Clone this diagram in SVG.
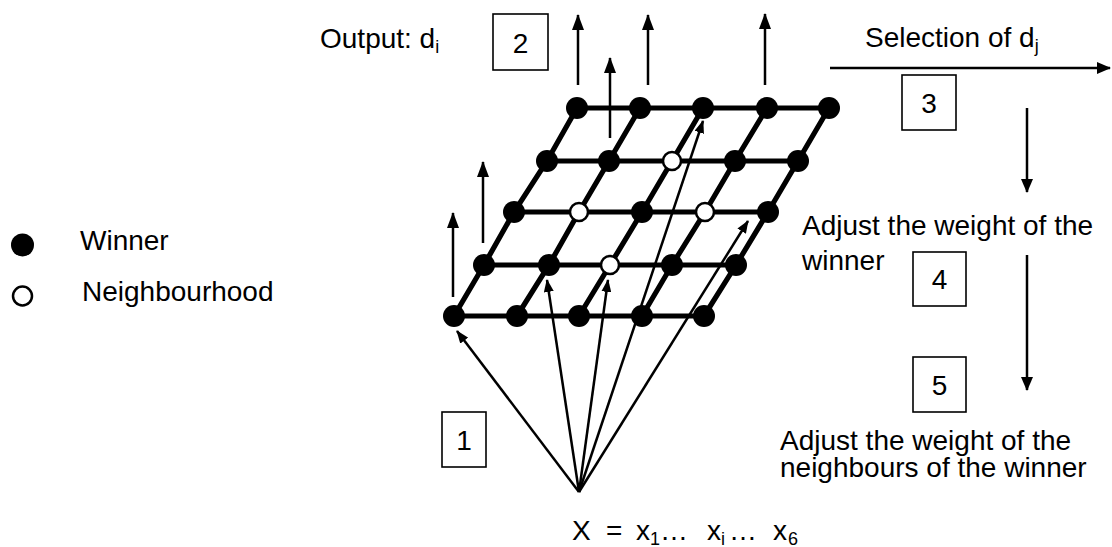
<svg xmlns="http://www.w3.org/2000/svg" width="1112" height="547" viewBox="0 0 1112 547">
<defs>
<style>
.t{font-family:"Liberation Sans",Arial,sans-serif;font-size:28px;fill:#000}
.s{font-size:18px}
.g{stroke:#000;stroke-width:5.2;fill:none;stroke-linecap:round}
.a{stroke:#000;stroke-width:2.5;fill:none}
.b{fill:#fff;stroke:#000;stroke-width:1.6}
.n{fill:#000}
.o{fill:#fff;stroke:#000;stroke-width:2.5}
</style>
<marker id="hOut" markerUnits="userSpaceOnUse" markerWidth="16" markerHeight="12" refX="15" refY="6" orient="auto"><path d="M0,0 L16,6 L0,12 z" fill="#000"/></marker>
<marker id="hIn" markerUnits="userSpaceOnUse" markerWidth="13" markerHeight="10" refX="12" refY="5" orient="auto"><path d="M0,0 L13,5 L0,10 z" fill="#000"/></marker>
<marker id="hR" markerUnits="userSpaceOnUse" markerWidth="14" markerHeight="12" refX="13" refY="6" orient="auto"><path d="M0,0 L14,6 L0,12 z" fill="#000"/></marker>
</defs>
<rect width="1112" height="547" fill="#fff"/>

<g id="connectors">
  <!-- grid rows -->
  <path class="g" d="M577,108 L829,108 M547,161 L798,161 M514,212 L768,212 M484,265 L736,265 M454,316 L704,316"/>
  <!-- grid columns -->
  <path class="g" d="M577,108 L547,161 L514,212 L484,265 L454,316 M640,108 L609,161 L579,212 L549,265 L517,316 M703,108 L672,161 L642,212 L610,265 L579,316 M767,108 L735,161 L705,212 L672,265 L642,316 M829,108 L798,161 L768,212 L736,265 L704,316"/>
  <!-- outputs -->
  <line class="a" x1="578" y1="85" x2="578" y2="15" marker-end="url(#hOut)"/>
  <line class="a" x1="648" y1="85" x2="648" y2="15" marker-end="url(#hOut)"/>
  <line class="a" x1="765" y1="85" x2="765" y2="14" marker-end="url(#hOut)"/>
  <line class="a" x1="610" y1="138" x2="610" y2="58" marker-end="url(#hOut)"/>
  <line class="a" x1="483" y1="243" x2="483" y2="162" marker-end="url(#hOut)"/>
  <line class="a" x1="453" y1="297" x2="453" y2="213" marker-end="url(#hOut)"/>
  <!-- inputs -->
  <line class="a" x1="579" y1="492" x2="457" y2="331" marker-end="url(#hIn)"/>
  <line class="a" x1="579" y1="492" x2="547" y2="280" marker-end="url(#hIn)"/>
  <line class="a" x1="579" y1="492" x2="608" y2="280" marker-end="url(#hIn)"/>
  <line class="a" x1="579" y1="492" x2="703" y2="121" marker-end="url(#hIn)"/>
  <line class="a" x1="579" y1="492" x2="748" y2="221" marker-end="url(#hIn)"/>
  <!-- process flow -->
  <line class="a" x1="830" y1="68" x2="1110" y2="68" stroke-width="2" marker-end="url(#hR)"/>
  <line class="a" x1="1027" y1="108" x2="1027" y2="192" stroke-width="2" marker-end="url(#hR)"/>
  <line class="a" x1="1027" y1="255" x2="1027" y2="390" stroke-width="2" marker-end="url(#hR)"/>
</g>

<g id="nodes">
  <g id="row0"><circle class="n" cx="577" cy="108" r="11"/><circle class="n" cx="640" cy="108" r="11"/><circle class="n" cx="703" cy="108" r="11"/><circle class="n" cx="767" cy="108" r="11"/><circle class="n" cx="829" cy="108" r="11"/></g>
  <g id="row1"><circle class="n" cx="547" cy="161" r="11"/><circle class="n" cx="609" cy="161" r="11"/><circle class="o" cx="672" cy="161" r="9"/><circle class="n" cx="735" cy="161" r="11"/><circle class="n" cx="798" cy="161" r="11"/></g>
  <g id="row2"><circle class="n" cx="514" cy="212" r="11"/><circle class="o" cx="579" cy="212" r="9"/><circle class="n" cx="642" cy="212" r="11"/><circle class="o" cx="705" cy="212" r="9"/><circle class="n" cx="768" cy="212" r="11"/></g>
  <g id="row3"><circle class="n" cx="484" cy="265" r="11"/><circle class="n" cx="549" cy="265" r="11"/><circle class="o" cx="610" cy="265" r="9"/><circle class="n" cx="672" cy="265" r="11"/><circle class="n" cx="736" cy="265" r="11"/></g>
  <g id="row4"><circle class="n" cx="454" cy="316" r="11"/><circle class="n" cx="517" cy="316" r="11"/><circle class="n" cx="579" cy="316" r="11"/><circle class="n" cx="642" cy="316" r="11"/><circle class="n" cx="704" cy="316" r="11"/></g>
</g>

<g id="box1"><rect class="b" x="442" y="412" width="44" height="55"/><text class="t" x="464" y="449.5" text-anchor="middle">1</text></g>
<g id="box2"><rect class="b" x="493" y="14" width="55" height="56"/><text class="t" x="520.5" y="52.5" text-anchor="middle">2</text></g>
<g id="box3"><rect class="b" x="902" y="75" width="54" height="55"/><text class="t" x="929" y="112.5" text-anchor="middle">3</text></g>
<g id="box4"><rect class="b" x="913" y="252" width="53" height="54"/><text class="t" x="939.5" y="289" text-anchor="middle">4</text></g>
<g id="box5"><rect class="b" x="913" y="357" width="53" height="55"/><text class="t" x="939.5" y="394.5" text-anchor="middle">5</text></g>

<g id="labels">
  <text class="t" x="320" y="48">Output: d<tspan class="s" dy="5">i</tspan></text>
  <text class="t" x="865" y="47">Selection of d<tspan class="s" dy="5">j</tspan></text>
  <text class="t" x="802" y="235">Adjust the weight of the</text>
  <text class="t" x="802" y="270">winner</text>
  <text class="t" x="780" y="450">Adjust the weight of the</text>
  <text class="t" x="780" y="477">neighbours of the winner</text>
  <text class="t" y="540"><tspan x="572">X</tspan><tspan x="606">=</tspan><tspan x="636">x</tspan><tspan class="s" x="650" dy="5">1</tspan><tspan x="660" dy="-5">…</tspan><tspan x="707">x</tspan><tspan class="s" x="721" dy="5">i</tspan><tspan x="729" dy="-5">…</tspan><tspan x="773">x</tspan><tspan class="s" x="788" dy="5">6</tspan></text>
</g>

<g id="legend">
  <g id="legend-winner"><circle class="n" cx="22.5" cy="245" r="11.5"/><text class="t" x="80" y="250">Winner</text></g>
  <g id="legend-neighbourhood"><circle class="o" cx="22.5" cy="296" r="9.5"/><text class="t" x="82" y="301">Neighbourhood</text></g>
</g>
</svg>
